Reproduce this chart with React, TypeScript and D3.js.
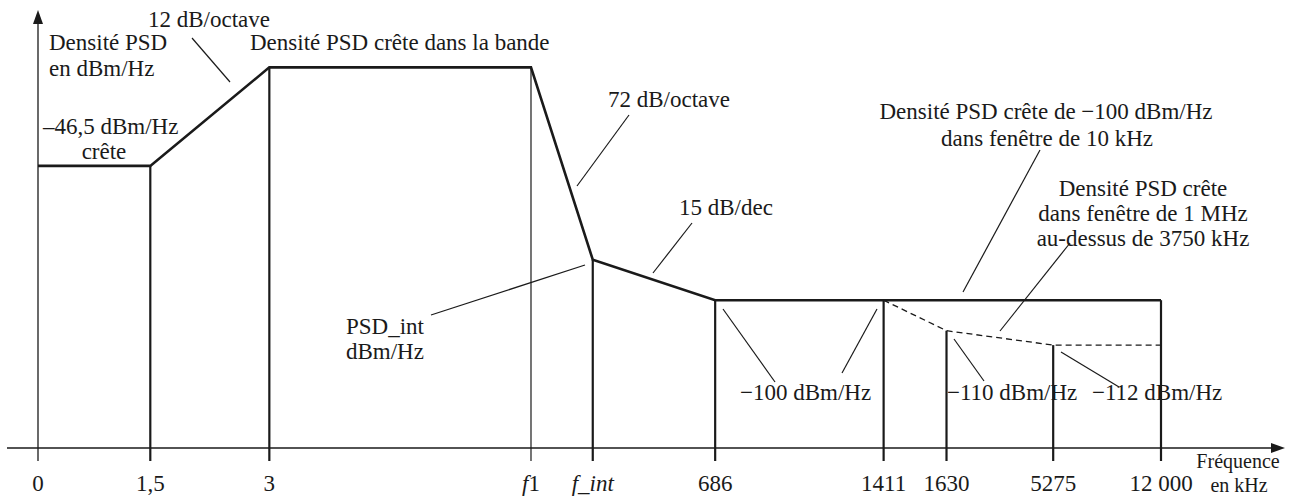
import React from 'react';
import * as d3 from 'd3';

// schematic PSD mask (not to scale): tick positions and levels are in drawing units
const tickLabels = ['0', '1,5', '3', 'f1', 'f_int', '686', '1411', '1630', '5275', '12 000'];
const tickPos = [0, 10, 20.6, 43.9, 49.4, 60.3, 75.3, 80.9, 90.4, 100];

// level of each mask corner (schematic height above the axis)
const maskTicks = ['0', '1,5', '3', 'f1', 'f_int', '686', '12 000'];
const maskLevels = [64.7, 64.7, 87.3, 87.3, 43.2, 33.9, 33.9];

// dashed 1 MHz window mask
const windowTicks = ['1411', '1630', '5275', '12 000'];
const windowLevels = [33.9, 26.9, 23.6, 23.6];

// vertical drops to the axis
const dropTicks = ['1,5', '3', 'f1', 'f_int', '686', '1411', '1630', '5275', '12 000'];
const dropLevels = [64.7, 87.3, 87.3, 43.2, 33.9, 33.9, 26.9, 23.6, 33.9];
const thinDrops = ['f1'];

const W = 1295;
const H = 497;
const FONT = '"Liberation Serif", "Times New Roman", serif';
const INK = '#1a1a1a';

const x = d3.scaleLinear().domain([0, 100]).range([38, 1161]);
const y = d3.scaleLinear().domain([0, 100]).range([448, 12]);
const xOf = (t: string) => x(tickPos[tickLabels.indexOf(t)]);

const line = d3.line<[number, number]>().x(d => d[0]).y(d => d[1]);

// annotation text (layout only)
const notes: { t: string; x: number; y: number; a?: string }[] = [
  { t: '12 dB/octave', x: 209, y: 27, a: 'middle' },
  { t: 'Densité PSD', x: 49, y: 50 },
  { t: 'en dBm/Hz', x: 49, y: 76 },
  { t: 'Densité PSD crête dans la bande', x: 250, y: 50 },
  { t: '–46,5 dBm/Hz', x: 43, y: 134 },
  { t: 'crête', x: 104, y: 159, a: 'middle' },
  { t: '72 dB/octave', x: 608, y: 107 },
  { t: '15 dB/dec', x: 679, y: 215 },
  { t: 'PSD_int', x: 346, y: 334 },
  { t: 'dBm/Hz', x: 346, y: 359 },
  { t: 'Densité PSD crête de −100 dBm/Hz', x: 1046, y: 119, a: 'middle' },
  { t: 'dans fenêtre de 10 kHz', x: 1047, y: 146, a: 'middle' },
  { t: 'Densité PSD crête', x: 1143, y: 196, a: 'middle' },
  { t: 'dans fenêtre de 1 MHz', x: 1143, y: 221, a: 'middle' },
  { t: 'au-dessus de 3750 kHz', x: 1143, y: 246, a: 'middle' },
  { t: '−100 dBm/Hz', x: 740, y: 400 },
  { t: '−110 dBm/Hz', x: 947, y: 400 },
  { t: '−112 dBm/Hz', x: 1092, y: 400 },
];

const leaders: [number, number, number, number][] = [
  [192, 38, 230, 82],
  [629, 115, 577, 186],
  [692, 223, 653, 273],
  [431, 315, 585, 265],
  [723, 309, 775, 382],
  [842, 373, 877, 309],
  [1040, 150, 963, 292],
  [1070, 243, 1000, 331],
  [954, 339, 984, 381],
  [1061, 352, 1119, 387],
];

const App = () => {
  const axisY = y(0);
  const tickBottom = axisY + 13;
  const maskPts = maskTicks.map((t, i) => [xOf(t), y(maskLevels[i])] as [number, number]);
  const winPts = windowTicks.map((t, i) => [xOf(t), y(windowLevels[i])] as [number, number]);

  return (
    <svg width={W} height={H} style={{ position: 'absolute', left: 0, top: 0, background: '#fff' }}
      fontFamily={FONT} fontSize={23} fill={INK}>
      {/* axes */}
      <line x1={x(0)} x2={x(0)} y1={tickBottom} y2={22} stroke={INK} strokeWidth={1.3} />
      <path d={`M${x(0)},10 L${x(0) - 5},24 L${x(0) + 5},24 Z`} fill={INK} />
      <line x1={7} x2={1274} y1={axisY} y2={axisY} stroke={INK} strokeWidth={1.5} />
      <path d={`M1285,${axisY} L1271,${axisY - 5} L1271,${axisY + 5} Z`} fill={INK} />

      {/* vertical drops */}
      {dropTicks.map((t, i) => (
        <line key={t} x1={xOf(t)} x2={xOf(t)} y1={y(dropLevels[i])} y2={tickBottom}
          stroke={INK} strokeWidth={thinDrops.includes(t) ? 1.2 : 2.2} />
      ))}

      {/* mask */}
      <path d={line(maskPts) ?? ''} fill="none" stroke={INK} strokeWidth={2.6} strokeLinejoin="miter" />
      <path d={line(winPts) ?? ''} fill="none" stroke={INK} strokeWidth={1.3} strokeDasharray="6 4" />

      {/* leaders */}
      {leaders.map((l, i) => (
        <line key={i} x1={l[0]} y1={l[1]} x2={l[2]} y2={l[3]} stroke={INK} strokeWidth={1.2} />
      ))}

      {/* annotations */}
      {notes.map((n, i) => (
        <text key={i} x={n.x} y={n.y} textAnchor={n.a ?? 'start'}>{n.t}</text>
      ))}

      {/* tick labels */}
      {tickLabels.map((t, i) => (
        <text key={t} x={x(tickPos[i])} y={491} textAnchor="middle">
          {t === 'f1' ? (<><tspan fontStyle="italic">f</tspan>1</>)
            : t === 'f_int' ? <tspan fontStyle="italic">f_int</tspan> : t}
        </text>
      ))}
      <text x={1238} y={468} fontSize={20} textAnchor="middle">Fréquence</text>
      <text x={1239} y={492} fontSize={20} textAnchor="middle">en kHz</text>
    </svg>
  );
};

export default App;
